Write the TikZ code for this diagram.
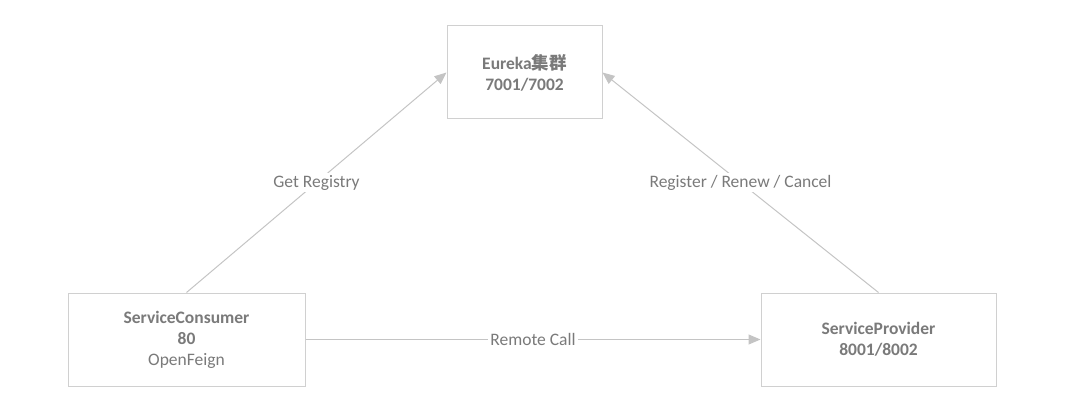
\documentclass[tikz,border=0pt]{standalone}
\usepackage{fontspec}
\setmainfont{Carlito}
\newfontfamily\cjk{Noto Sans CJK SC}
\usetikzlibrary{arrows.meta}
\definecolor{txtgray}{HTML}{7A7A7A}
\definecolor{linegray}{HTML}{C4C4C4}
\definecolor{boxgray}{HTML}{D0D0D0}

\begin{document}
\begin{tikzpicture}[x=1pt,y=-1pt,>={Triangle[length=12pt,width=10pt]},
    font=\fontsize{17.5}{21}\selectfont,text=txtgray,
    box/.style={draw=boxgray,line width=1pt,fill=white,align=center,inner sep=0pt},
    link/.style={draw=linegray,line width=1pt},
    lbl/.style={fill=white,inner sep=2pt}]
       \useasboundingbox (0,0) rectangle (1067,417);
       \node[box,minimum width=155pt,minimum height=93pt] (eureka) at (524.5,72.5)
            {\textbf{Eureka{\cjk\bfseries 集群}}\\\textbf{7001/7002}};
       \node[box,minimum width=237pt,minimum height=93pt] (consumer) at (186.5,339.5)
            {\textbf{ServiceConsumer}\\\textbf{80}\\OpenFeign};
       \node[box,minimum width=235pt,minimum height=93pt] (provider) at (878.5,339.5)
            {\textbf{ServiceProvider}\\\textbf{8001/8002}};
        \path[->]
        (consumer.north) edge[link] node[lbl] {Get Registry} (eureka.west)
        (provider.north) edge[link] node[lbl] {Register / Renew / Cancel} (eureka.east)
        (consumer.east) edge[link] node[lbl] {Remote Call} (provider.west);
    \end{tikzpicture}
\end{document}
